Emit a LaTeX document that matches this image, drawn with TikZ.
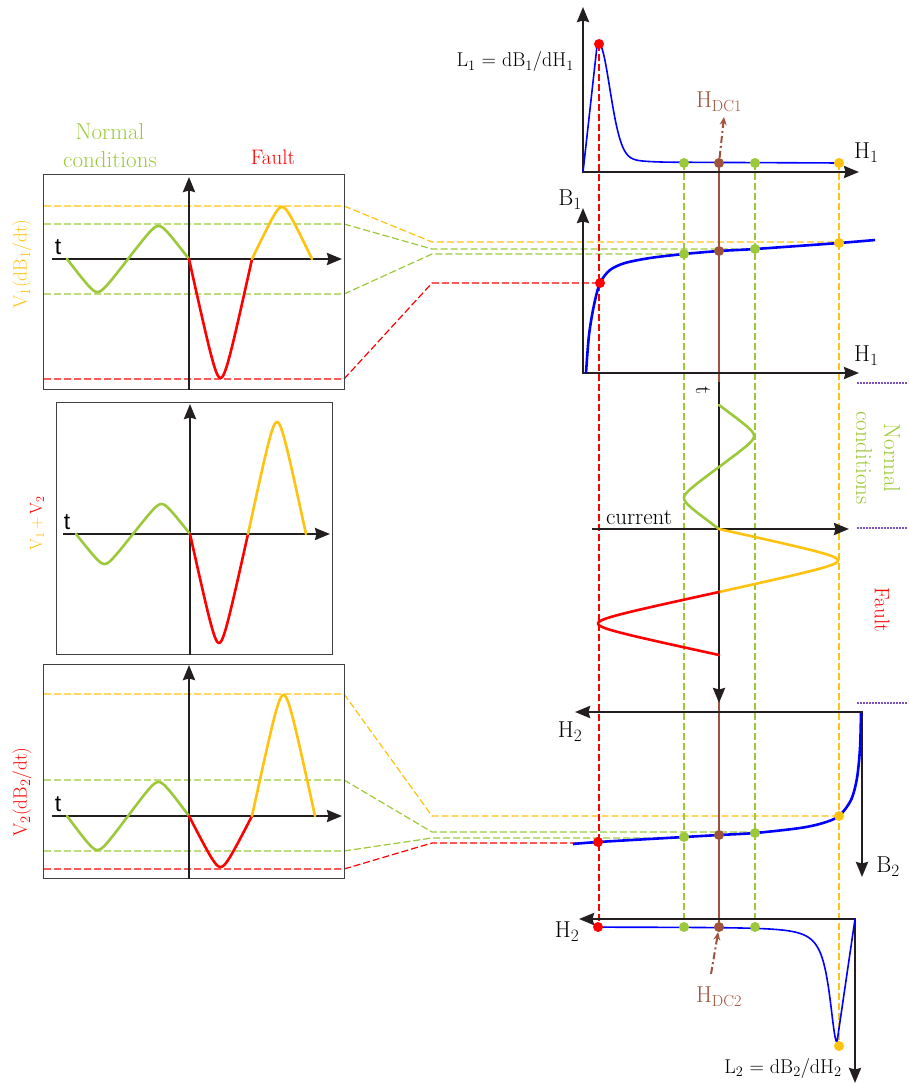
\documentclass[tikz,border=0pt]{standalone}
\usepackage{fontspec}
\newfontfamily\sansT{Liberation Sans}
\usetikzlibrary{arrows.meta}
\definecolor{cgreen}{HTML}{9CC93A}
\definecolor{cyellow}{HTML}{FFC20E}
\definecolor{cred}{HTML}{FF0000}
\definecolor{cbrown}{HTML}{A0533C}
\definecolor{cblue}{HTML}{0000FF}
\definecolor{cpurple}{HTML}{7A4FC0}
\definecolor{caxis}{HTML}{231F20}
\begin{document}
\begin{tikzpicture}[x=1pt,y=-1pt,
  declare function={stri(\u)=asin(0.95*sin(\u))/71.8;},
  axis/.style={line width=2.5pt, draw=caxis, line cap=rect, -{Stealth[length=15pt,width=12pt,inset=1.5pt]}},
  wave/.style={line width=2.6pt, line join=round, line cap=round},
  guide/.style={line width=1.2pt, dash pattern=on 7pt off 3pt},
  frame/.style={draw=black!75, line width=1pt},
  ptdot/.style={circle, fill=#1, inner sep=0pt, minimum size=10pt},
  dottedline/.style={draw=cpurple, line width=1.1pt, dash pattern=on 1.5pt off 1.5pt},
  brownarrow/.style={draw=cbrown, line width=2pt, dash pattern=on 7pt off 3pt on 2pt off 3pt, -{Stealth[length=8pt,width=7pt]}},
  fA/.style={font=\fontsize{23}{28}\selectfont, inner sep=0pt},
  fB/.style={font=\fontsize{21}{25}\selectfont, inner sep=0pt},
  fV/.style={font=\fontsize{19}{23}\selectfont, inner sep=0pt},
  fC/.style={font=\fontsize{20}{24}\selectfont, inner sep=0pt},
  tl/.style={font=\sansT\fontsize{23}{27}\selectfont, inner sep=0pt},
]
\useasboundingbox (0,0) rectangle (908,1086);

% ---------- top labels ----------
\node[fA, text=cgreen, align=center] (nc) at (110,146) {Normal\\conditions};
\node[fB, text=cred] (fl) at (273,157) {Fault};

% ---------- guides from box 1 ----------
\draw[guide,cyellow] (44,206) -- (344,206) -- (432,242) -- (839,242);
\draw[guide,cgreen] (44,224) -- (344,224) -- (432,249) -- (755,249);
\draw[guide,cgreen] (44,294) -- (344,294) -- (432,254) -- (684,254);
\draw[guide,cred] (44,379) -- (344,379) -- (432,283) -- (599,283);

% ---------- guides from box 3 ----------
\draw[guide,cyellow] (44,694) -- (344,694) -- (432,816) -- (839,816);
\draw[guide,cgreen] (44,780) -- (344,780) -- (432,832) -- (755,832);
\draw[guide,cgreen] (44,851) -- (344,851) -- (432,838) -- (684,838);
\draw[guide,cred] (44,869) -- (344,869) -- (432,843) -- (598,843);

% ---------- vertical guides ----------
\draw[guide,cred] (599,44) -- (599,927);
\draw[guide,cgreen] (684,163) -- (684,927);
\draw[guide,cgreen] (755,163) -- (755,927);
\draw[guide,cyellow] (839,163) -- (839,1046);
\draw[line width=2.2pt,cbrown] (719,163) -- (719,927);

% ---------- box 1 ----------
\draw[frame] (43,175) rectangle (344,389);
\draw[axis] (189,389) -- (189,177);
\draw[axis] (53,259) -- (342,259);
\draw[wave,cgreen] plot[domain=67:189,samples=100] (\x,{259+33*stri((\x-67)/122*360)});
\draw[wave,cred] plot[domain=189:252,samples=60] (\x,{259+119*stri((\x-189)/63*180)});
\draw[wave,cyellow] plot[domain=252:312,samples=60] (\x,{259-52*stri((\x-252)/60*180)});
\node[tl] (t1) at (58,247) {t};
\node[fV, rotate=90, text=cyellow] (v1) at (22,264) {V$_1$(dB$_1$/dt)};

% ---------- box 2 ----------
\draw[frame] (56,402) rectangle (332,654);
\draw[axis] (190,654) -- (190,404);
\draw[axis] (64,534) -- (330,534);
\draw[wave,cgreen] plot[domain=76:190,samples=100] (\x,{534+30*stri((\x-76)/114*360)});
\draw[wave,cred] plot[domain=190:248,samples=60] (\x,{534+109*stri((\x-190)/58*180)});
\draw[wave,cyellow] plot[domain=248:306,samples=60] (\x,{534-112*stri((\x-248)/58*180)});
\node[tl] (t2) at (67,522) {t};
\node[fV, font=\fontsize{17}{20}\selectfont, rotate=90] (v12) at (37,523) {\textcolor{cyellow}{V$_1$\,+}\,\textcolor{cred}{V$_2$}};

% ---------- box 3 ----------
\draw[frame] (43,664) rectangle (344,878);
\draw[axis] (189,878) -- (189,665);
\draw[axis] (53,816) -- (342,816);
\draw[wave,cgreen] plot[domain=67:189,samples=100] (\x,{816+34*stri((\x-67)/122*360)});
\draw[wave,cred] plot[domain=189:252,samples=60] (\x,{816+51*stri((\x-189)/63*180)});
\draw[wave,cyellow] plot[domain=252:315,samples=60] (\x,{816-121*stri((\x-252)/63*180)});
\node[tl] (t3) at (58,804) {t};
\node[fV, rotate=90, text=cred] (v2) at (22,792) {V$_2$(dB$_2$/dt)};

% ---------- L1 graph ----------
\draw[axis] (583,172) -- (583,7);
\draw[axis] (583,172) -- (859,172);
\draw[cblue, line width=1.6pt, line join=round]
  (583,172) -- plot[domain=597:668,samples=100]
  (\x,{163-119*(0.8*exp(-((\x-599)/16)^2)+0.2/(1+((\x-599)/13)^2))})
  -- (840,163);
\node[fC, anchor=east] (l1) at (574,62) {L$_1$ = dB$_1$/dH$_1$};
\node[fA, anchor=west] (h1a) at (854,153) {H$_1$};

% ---------- B1 graph ----------
\draw[axis] (583,373) -- (583,208);
\draw[axis] (583,373) -- (859,373);
\draw[cblue, line width=2.6pt] plot[smooth, tension=0.5] coordinates
  {(586,373) (589,335) (594,305) (600,283) (610,270) (625,263) (650,258) (684,254) (719,251) (755,249) (839,243) (875,240)};
\node[fA] (b1) at (570,200) {B$_1$};
\node[fA, anchor=west] (h1b) at (854,356) {H$_1$};

% ---------- current graph ----------
\draw[axis] (719,383) -- (719,703);
\draw[axis] (593,529) -- (849,529);
\draw[wave,cgreen] plot[domain=405:529,samples=100] ({719+35*stri((\x-405)/124*360)},\x);
\draw[wave,cyellow] plot[domain=529:592,samples=60] ({719+119*stri((\x-529)/63*180)},\x);
\draw[wave,cred] plot[domain=592:655,samples=60] ({719-121*stri((\x-592)/63*180)},\x);
\node[fA, rotate=-90] (tt) at (703,391) {t};
\node[fA] (cur) at (639,518) {current};
\node[fA, rotate=-90, text=cgreen, align=center] (nc2) at (878,458) {Normal\\conditions};
\node[fB, rotate=-90, text=cred] (fl2) at (882,610) {Fault};

% ---------- dotted purple ----------
\draw[dottedline] (857,383) -- (907,383);
\draw[dottedline] (857,528) -- (907,528);
\draw[dottedline] (857,703) -- (907,703);

% ---------- B2 graph ----------
\draw[axis] (862,712) -- (575,712);
\draw[axis] (862,712) -- (862,877);
\draw[cblue, line width=2.6pt] plot[smooth, tension=0.5] coordinates
  {(861,713) (860,748) (857,778) (851,800) (839,816) (823,823) (800,828) (755,833) (719,835) (684,837) (598,842) (573,844)};
\node[fA] (h2a) at (570,732) {H$_2$};
\node[fA] (b2) at (888,867) {B$_2$};

% ---------- L2 graph ----------
\draw[axis] (855,919) -- (579,919);
\draw[axis] (855,919) -- (855,1083);
\draw[cblue, line width=1.6pt, line join=round]
  plot[domain=598:837,samples=240] (\x,{927+115/(1+((837-\x)/9)^2)}) -- (855,919);
\node[fA] (h2b) at (567,932) {H$_2$};
\node[fC] (l2) at (783,1068) {L$_2$ = dB$_2$/dH$_2$};

% ---------- dots ----------
\node[ptdot=cred] (r1) at (599,44) {};
\node[ptdot=cgreen] (g1a) at (684,163) {};
\node[ptdot=cbrown] (br1) at (719,163) {};
\node[ptdot=cgreen] (g1b) at (755,163) {};
\node[ptdot=cyellow] (y1) at (839,163) {};

\node[ptdot=cred] (r2) at (600,283) {};
\node[ptdot=cgreen] (g2a) at (684,254) {};
\node[ptdot=cbrown] (br2) at (719,251) {};
\node[ptdot=cgreen] (g2b) at (755,249) {};
\node[ptdot=cyellow] (y2) at (839,243) {};

\node[ptdot=cyellow] (y3) at (839,816) {};
\node[ptdot=cgreen] (g3b) at (755,833) {};
\node[ptdot=cbrown] (br3) at (719,835) {};
\node[ptdot=cgreen] (g3a) at (684,837) {};
\node[ptdot=cred] (r3) at (598,842) {};

\node[ptdot=cred] (r4) at (598,927) {};
\node[ptdot=cgreen] (g4a) at (684,927) {};
\node[ptdot=cbrown] (br4) at (719,927) {};
\node[ptdot=cgreen] (g4b) at (755,927) {};
\node[ptdot=cyellow] (y4) at (839,1046) {};

% ---------- H_DC labels ----------
\node[fA, text=cbrown] (hdc1) at (719,102) {H$_{\mathrm{DC1}}$};
\coordinate (hdc1tip) at (724,117);
\draw[brownarrow] (br1) -- (hdc1tip);
\node[fA, text=cbrown] (hdc2) at (719,997) {H$_{\mathrm{DC2}}$};
\coordinate (hdc2start) at (711,974);
\draw[brownarrow] (hdc2start) -- (br4);
\end{tikzpicture}
\end{document}
